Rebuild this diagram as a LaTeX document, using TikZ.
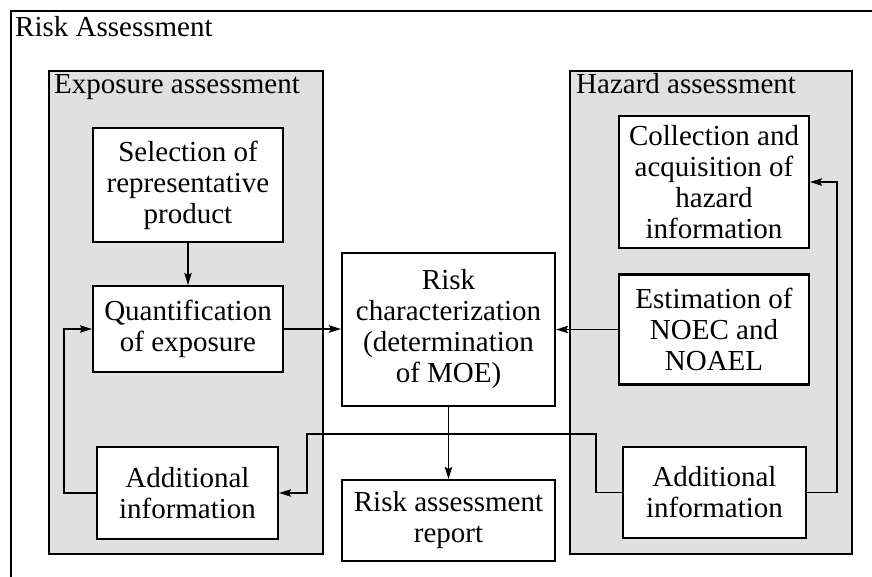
\documentclass[tikz,border=0pt]{standalone}
\usepackage{fontspec}
\setmainfont{Liberation Serif}
\usetikzlibrary{arrows.meta}
\definecolor{grayfill}{RGB}{224,224,224}
\begin{document}
\begin{tikzpicture}[x=1pt,y=-1pt,
  box/.style={draw, line width=2.2pt, fill=white, align=center, inner sep=0pt,
    font=\fontsize{29}{31}\selectfont},
  group/.style={draw, line width=2.2pt, fill=grayfill, inner sep=0pt},
  grouplabel/.style={anchor=base west, inner sep=0pt, font=\fontsize{29}{31}\selectfont},
  conn/.style={line width=1.2pt, -{Stealth[length=12pt,width=7.5pt,inset=2pt]}},
  plain/.style={line width=1.2pt}]
\useasboundingbox (0,0) rectangle (872,576);
\begin{scope}
  \clip (0,0) rectangle (872,576);
  \draw[line width=2.2pt] (11,11) rectangle (900,600);
\end{scope}
\node[grouplabel] (title) at (15,36) {Risk Assessment};

% groups
\node[group, minimum width=274pt, minimum height=483pt] (expo) at (186,312.5) {};
\node[group, minimum width=282pt, minimum height=483pt] (haz) at (711,312.5) {};
\node[grouplabel] (expolabel) at (54,93) {Exposure assessment};
\node[grouplabel] (hazlabel) at (576,93) {Hazard assessment};

% boxes
\node[box, minimum width=190pt, minimum height=114pt] (sel) at (188,185) {Selection of\\representative\\product};
\node[box, minimum width=190pt, minimum height=86pt] (quant) at (188,329) {Quantification\\of exposure};
\node[box, minimum width=181pt, minimum height=92pt] (addL) at (187.5,493) {Additional\\information};
\node[box, minimum width=213pt, minimum height=153pt] (risk) at (448.5,329.5) {Risk\\characterization\\(determination\\of MOE)};
\node[box, minimum width=213pt, minimum height=81pt] (report) at (448.5,520.5) {Risk assessment\\report};
\node[box, minimum width=190pt, minimum height=132pt] (coll) at (714,182) {Collection and\\acquisition of\\hazard\\information};
\node[box, minimum width=190pt, minimum height=110pt] (est) at (714,329.5) {Estimation of\\NOEC and\\NOAEL};
\node[box, minimum width=183pt, minimum height=91pt] (addR) at (714.5,492.5) {Additional\\information};

% connectors
\draw[conn] (sel) -- (quant);
\draw[conn] (quant.east) -- (risk.west |- quant.east);
\draw[conn] (est.west) -- (risk.east |- est.west);
\draw[conn] (risk) -- (report);
\coordinate (jl) at (64,493);
\draw[conn] (addL.west) -- (jl) |- (quant.west);
\coordinate (j1) at (596,434);
\coordinate (j2) at (307,434);
\draw[conn] (addR.west) -| (j1) -- (j2) |- (addL.east);
\coordinate (j3) at (837,182);
\draw[conn] (addR.east) -| (j3) -- (coll.east);
\end{tikzpicture}
\end{document}
